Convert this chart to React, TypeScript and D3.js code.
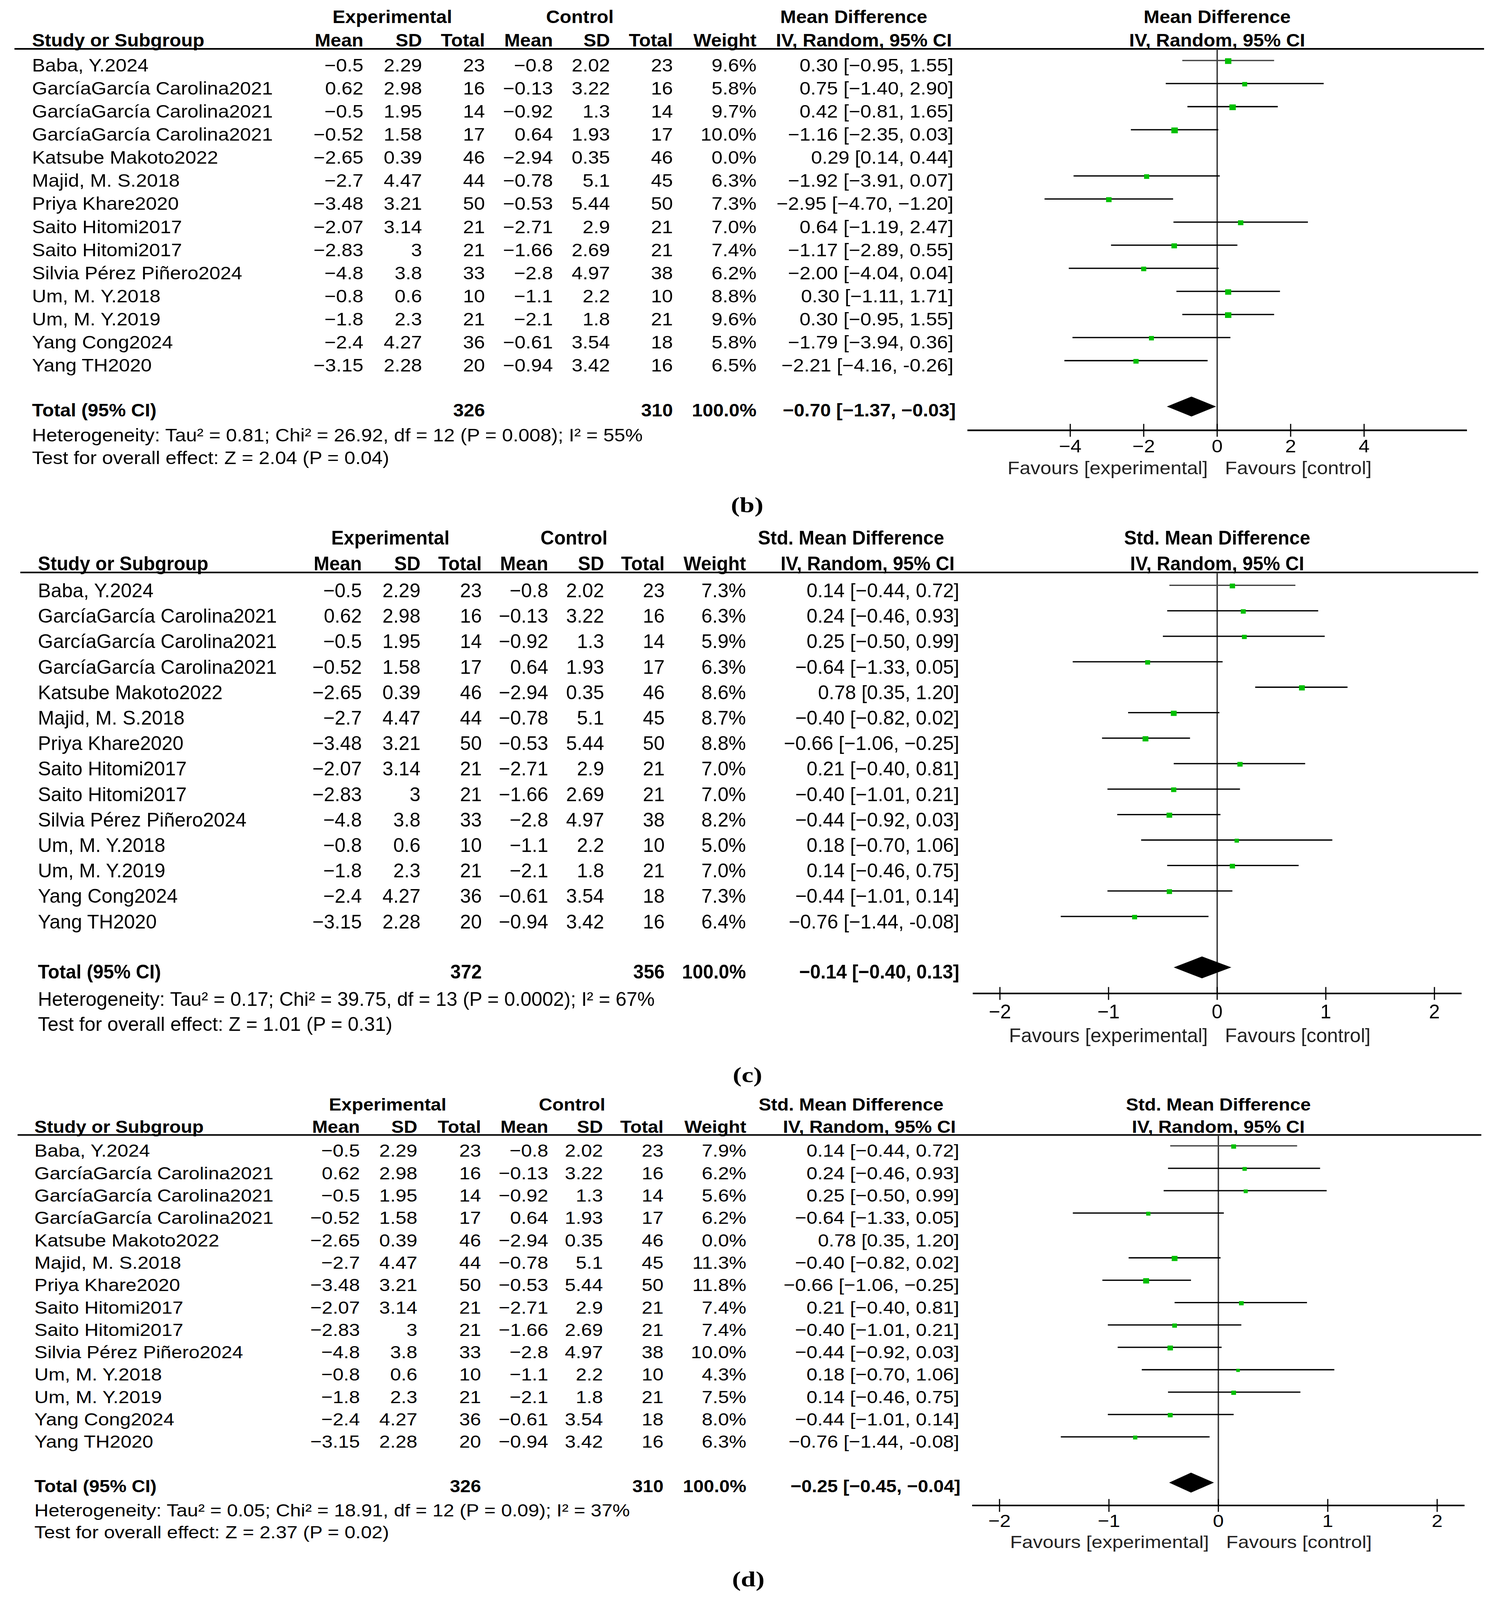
import React, { useEffect } from 'react';
import * as d3 from 'd3';

// ---------- shared study data ----------
const studies = [
  'Baba, Y.2024',
  'GarcíaGarcía Carolina2021',
  'GarcíaGarcía Carolina2021',
  'GarcíaGarcía Carolina2021',
  'Katsube Makoto2022',
  'Majid, M. S.2018',
  'Priya Khare2020',
  'Saito Hitomi2017',
  'Saito Hitomi2017',
  'Silvia Pérez Piñero2024',
  'Um, M. Y.2018',
  'Um, M. Y.2019',
  'Yang Cong2024',
  'Yang TH2020',
];
const expMean = [-0.5, 0.62, -0.5, -0.52, -2.65, -2.7, -3.48, -2.07, -2.83, -4.8, -0.8, -1.8, -2.4, -3.15];
const expSD = [2.29, 2.98, 1.95, 1.58, 0.39, 4.47, 3.21, 3.14, 3, 3.8, 0.6, 2.3, 4.27, 2.28];
const expN = [23, 16, 14, 17, 46, 44, 50, 21, 21, 33, 10, 21, 36, 20];
const ctlMean = [-0.8, -0.13, -0.92, 0.64, -2.94, -0.78, -0.53, -2.71, -1.66, -2.8, -1.1, -2.1, -0.61, -0.94];
const ctlSD = [2.02, 3.22, 1.3, 1.93, 0.35, 5.1, 5.44, 2.9, 2.69, 4.97, 2.2, 1.8, 3.54, 3.42];
const ctlN = [23, 16, 14, 17, 46, 45, 50, 21, 21, 38, 10, 21, 18, 16];

// ---------- panel (b): Mean Difference ----------
const weightB = [9.6, 5.8, 9.7, 10.0, 0.0, 6.3, 7.3, 7.0, 7.4, 6.2, 8.8, 9.6, 5.8, 6.5];
const estB = [0.3, 0.75, 0.42, -1.16, 0.29, -1.92, -2.95, 0.64, -1.17, -2.0, 0.3, 0.3, -1.79, -2.21];
const loB = [-0.95, -1.4, -0.81, -2.35, 0.14, -3.91, -4.7, -1.19, -2.89, -4.04, -1.11, -0.95, -3.94, -4.16];
const hiB = [1.55, 2.9, 1.65, 0.03, 0.44, 0.07, -1.2, 2.47, 0.55, 0.04, 1.71, 1.55, 0.36, -0.26];
const totalB = { expN: 326, ctlN: 310, est: -0.7, lo: -1.37, hi: -0.03 };
const hetB = 'Heterogeneity: Tau² = 0.81; Chi² = 26.92, df = 12 (P = 0.008); I² = 55%';
const testB = 'Test for overall effect: Z = 2.04 (P = 0.04)';
const ticksB = [-4, -2, 0, 2, 4];

// ---------- panel (c): Std. Mean Difference ----------
const weightC = [7.3, 6.3, 5.9, 6.3, 8.6, 8.7, 8.8, 7.0, 7.0, 8.2, 5.0, 7.0, 7.3, 6.4];
const estSMD = [0.14, 0.24, 0.25, -0.64, 0.78, -0.4, -0.66, 0.21, -0.4, -0.44, 0.18, 0.14, -0.44, -0.76];
const loSMD = [-0.44, -0.46, -0.5, -1.33, 0.35, -0.82, -1.06, -0.4, -1.01, -0.92, -0.7, -0.46, -1.01, -1.44];
const hiSMD = [0.72, 0.93, 0.99, 0.05, 1.2, 0.02, -0.25, 0.81, 0.21, 0.03, 1.06, 0.75, 0.14, -0.08];
const totalC = { expN: 372, ctlN: 356, est: -0.14, lo: -0.4, hi: 0.13 };
const hetC = 'Heterogeneity: Tau² = 0.17; Chi² = 39.75, df = 13 (P = 0.0002); I² = 67%';
const testC = 'Test for overall effect: Z = 1.01 (P = 0.31)';
const ticksSMD = [-2, -1, 0, 1, 2];

// ---------- panel (d): Std. Mean Difference ----------
const weightD = [7.9, 6.2, 5.6, 6.2, 0.0, 11.3, 11.8, 7.4, 7.4, 10.0, 4.3, 7.5, 8.0, 6.3];
const totalD = { expN: 326, ctlN: 310, est: -0.25, lo: -0.45, hi: -0.04 };
const hetD = 'Heterogeneity: Tau² = 0.05; Chi² = 18.91, df = 12 (P = 0.09); I² = 37%';
const testD = 'Test for overall effect: Z = 2.37 (P = 0.02)';

// row whose upper CI bound is printed with a plain hyphen in the source
const hyphenUpperRow = 13;

const W = 3826;
const H = 4975;
const FONT = '"Liberation Sans", Arial, Helvetica, sans-serif';
const GREEN = '#00bf00';

const m = (s: string) => s.replace('-', '−');
const fmtNum = (v: number) => m(String(v));
const fmt2 = (v: number) => m(v.toFixed(2));
const fmtCI = (e: number, l: number, h: number, hyph = false) =>
  `${fmt2(e)} [${fmt2(l)}, ${hyph ? h.toFixed(2) : fmt2(h)}]`;

function T(props: any) {
  const { x, y, s, sx, anchor = 'start', bold = false, fill = '#000', family = FONT, children } = props;
  return (
    <text
      transform={`translate(${x},${y}) scale(${sx},1)`}
      textAnchor={anchor}
      fontSize={s}
      fontWeight={bold ? 'bold' : 'normal'}
      fontFamily={family}
      fill={fill}
    >
      {children}
    </text>
  );
}

function Panel(props: any) {
  const { L, D } = props;
  const x = d3.scaleLinear().domain([-L.dom, L.dom]).range([L.zero - L.dom * L.unit, L.zero + L.dom * L.unit]);
  const rowY = d3.scaleLinear().domain([0, 1]).range([L.row0, L.row0 + L.step]);
  const fs = L.fs;
  const sx = L.sx;
  const sxb = L.sxb;
  const C = L.cols;
  const dTot = D.total;
  const diamond = [
    [x(dTot.lo), L.diamondY],
    [x(dTot.est), L.diamondY - L.diamondH],
    [x(dTot.hi), L.diamondY],
    [x(dTot.est), L.diamondY + L.diamondH],
  ];
  return (
    <g>
      <T x={L.expHdrX} y={L.h1Y} s={fs} sx={sxb} anchor="middle" bold>Experimental</T>
      <T x={L.ctlHdrX} y={L.h1Y} s={fs} sx={sxb} anchor="middle" bold>Control</T>
      <T x={L.effHdrX} y={L.h1Y} s={fs} sx={sxb} anchor="middle" bold>{D.measure}</T>
      <T x={L.zero} y={L.h1Y} s={fs} sx={sxb} anchor="middle" bold>{D.measure}</T>
      <T x={L.nameX} y={L.h2Y} s={fs} sx={sxb} bold>Study or Subgroup</T>
      <T x={C.expMean} y={L.h2Y} s={fs} sx={sxb} anchor="end" bold>Mean</T>
      <T x={C.expSD} y={L.h2Y} s={fs} sx={sxb} anchor="end" bold>SD</T>
      <T x={C.expN} y={L.h2Y} s={fs} sx={sxb} anchor="end" bold>Total</T>
      <T x={C.ctlMean} y={L.h2Y} s={fs} sx={sxb} anchor="end" bold>Mean</T>
      <T x={C.ctlSD} y={L.h2Y} s={fs} sx={sxb} anchor="end" bold>SD</T>
      <T x={C.ctlN} y={L.h2Y} s={fs} sx={sxb} anchor="end" bold>Total</T>
      <T x={C.weight} y={L.h2Y} s={fs} sx={sxb} anchor="end" bold>Weight</T>
      <T x={L.ivHdrRight} y={L.h2Y} s={fs} sx={sxb} anchor="end" bold>IV, Random, 95% CI</T>
      <T x={L.zero} y={L.h2Y} s={fs} sx={sxb} anchor="middle" bold>IV, Random, 95% CI</T>
      <line x1={L.ruleX0} x2={L.ruleX1} y1={L.ruleY} y2={L.ruleY} stroke="#000" strokeWidth={5} />
      <line x1={x(0)} x2={x(0)} y1={L.ruleY} y2={L.axisY} stroke="#333" strokeWidth={3.5} />
      {studies.map((name, i) => {
        const y = rowY(i);
        const wy = y - L.whiskerOff;
        const w = D.weight[i];
        const h = L.sqK * Math.sqrt(w);
        return (
          <g key={i}>
            <T x={L.nameX} y={y} s={fs} sx={sx}>{name}</T>
            <T x={C.expMean} y={y} s={fs} sx={sx} anchor="end">{fmtNum(expMean[i])}</T>
            <T x={C.expSD} y={y} s={fs} sx={sx} anchor="end">{fmtNum(expSD[i])}</T>
            <T x={C.expN} y={y} s={fs} sx={sx} anchor="end">{expN[i]}</T>
            <T x={C.ctlMean} y={y} s={fs} sx={sx} anchor="end">{fmtNum(ctlMean[i])}</T>
            <T x={C.ctlSD} y={y} s={fs} sx={sx} anchor="end">{fmtNum(ctlSD[i])}</T>
            <T x={C.ctlN} y={y} s={fs} sx={sx} anchor="end">{ctlN[i]}</T>
            <T x={C.weight} y={y} s={fs} sx={sx} anchor="end">{w.toFixed(1)}%</T>
            <T x={C.ci} y={y} s={fs} sx={sx} anchor="end">
              {fmtCI(D.est[i], D.lo[i], D.hi[i], i === hyphenUpperRow)}
            </T>
            {w > 0 && (
              <g>
                <line x1={x(D.lo[i])} x2={x(D.hi[i])} y1={wy} y2={wy} stroke={i === 0 ? '#404040' : '#000'} strokeWidth={4} />
                <rect x={x(D.est[i]) - (h * 0.92) / 2} y={wy + 2 - h / 2} width={h * 0.92} height={h} fill={GREEN} />
              </g>
            )}
          </g>
        );
      })}
      <T x={L.nameX} y={L.totalY} s={fs} sx={sxb} bold>Total (95% CI)</T>
      <T x={C.expN} y={L.totalY} s={fs} sx={sxb} anchor="end" bold>{dTot.expN}</T>
      <T x={C.ctlN} y={L.totalY} s={fs} sx={sxb} anchor="end" bold>{dTot.ctlN}</T>
      <T x={C.weight} y={L.totalY} s={fs} sx={sxb} anchor="end" bold>100.0%</T>
      <T x={L.totalCiRight} y={L.totalY} s={fs} sx={sxb} anchor="end" bold>{fmtCI(dTot.est, dTot.lo, dTot.hi)}</T>
      <path d={`M${diamond.map((p) => p.join(',')).join('L')}Z`} fill="#000" />
      <T x={L.nameX} y={L.hetY} s={fs} sx={sx}>{D.het}</T>
      <T x={L.nameX} y={L.testY} s={fs} sx={sx}>{D.test}</T>
      <line x1={x.range()[0]} x2={x.range()[1]} y1={L.axisY} y2={L.axisY} stroke="#000" strokeWidth={5} />
      {D.ticks.map((t: number) => (
        <g key={t}>
          <line x1={x(t)} x2={x(t)} y1={L.axisY - 20} y2={L.axisY + 20} stroke="#000" strokeWidth={3} />
          <T x={x(t)} y={L.tickLabY} s={fs} sx={sx} anchor="middle">{fmtNum(t)}</T>
        </g>
      ))}
      <T x={x(0) - 24} y={L.favY} s={fs} sx={sx} anchor="end" fill="#222">Favours [experimental]</T>
      <T x={x(0) + 20} y={L.favY} s={fs} sx={sx} fill="#222">Favours [control]</T>
      <text x={L.labelX} y={L.labelY} textAnchor="middle" fontSize={68} fontWeight="bold" fontFamily='"Liberation Serif", "Times New Roman", serif'>
        {L.label}
      </text>
    </g>
  );
}

const layoutB = {
  fs: 56, sx: 0.9, sxb: 0.87, nameX: 82, ruleX0: 37, ruleX1: 3798, ruleY: 152, h1Y: 72, h2Y: 145,
  cols: { expMean: 930, expSD: 1080, expN: 1241, ctlMean: 1415, ctlSD: 1561, ctlN: 1722, weight: 1936, ci: 2440 },
  expHdrX: 1004, ctlHdrX: 1484, effHdrX: 2185, ivHdrRight: 2436,
  row0: 222, step: 71.8, whiskerOff: 34,
  totalY: 1295, totalCiRight: 2446, diamondY: 1264, diamondH: 31, hetY: 1372, testY: 1443,
  axisY: 1338, tickLabY: 1407, favY: 1475, zero: 3115, unit: 94, dom: 6.8, sqK: 5.7,
  label: '(b)', labelX: 1912, labelY: 1592,
};
const layoutC = {
  fs: 61, sx: 0.82, sxb: 0.79, nameX: 97, ruleX0: 52, ruleX1: 3783, ruleY: 1780, h1Y: 1693, h2Y: 1773,
  cols: { expMean: 926, expSD: 1076, expN: 1233, ctlMean: 1403, ctlSD: 1546, ctlN: 1701, weight: 1909, ci: 2455 },
  expHdrX: 999, ctlHdrX: 1469, effHdrX: 2178, ivHdrRight: 2443,
  row0: 1857, step: 79.2, whiskerOff: 37,
  totalY: 3043, totalCiRight: 2455, diamondY: 3008, diamondH: 34, hetY: 3127, testY: 3205,
  axisY: 3089, tickLabY: 3167, favY: 3240, zero: 3115, unit: 278, dom: 2.25, sqK: 5.5,
  label: '(c)', labelX: 1913, labelY: 3365,
};
const layoutD = {
  fs: 55, sx: 0.91, sxb: 0.87, nameX: 88, ruleX0: 45, ruleX1: 3791, ruleY: 3529, h1Y: 3453, h2Y: 3522,
  cols: { expMean: 921, expSD: 1068, expN: 1231, ctlMean: 1403, ctlSD: 1543, ctlN: 1698, weight: 1910, ci: 2455 },
  expHdrX: 992, ctlHdrX: 1464, effHdrX: 2178, ivHdrRight: 2446,
  row0: 3597, step: 69.6, whiskerOff: 34,
  totalY: 4640, totalCiRight: 2458, diamondY: 4610, diamondH: 31, hetY: 4715, testY: 4783,
  axisY: 4681, tickLabY: 4748, favY: 4814, zero: 3118, unit: 280, dom: 2.25, sqK: 4.8,
  label: '(d)', labelX: 1915, labelY: 4932,
};

const dataB = { measure: 'Mean Difference', weight: weightB, est: estB, lo: loB, hi: hiB, total: totalB, het: hetB, test: testB, ticks: ticksB };
const dataC = { measure: 'Std. Mean Difference', weight: weightC, est: estSMD, lo: loSMD, hi: hiSMD, total: totalC, het: hetC, test: testC, ticks: ticksSMD };
const dataD = { measure: 'Std. Mean Difference', weight: weightD, est: estSMD, lo: loSMD, hi: hiSMD, total: totalD, het: hetD, test: testD, ticks: ticksSMD };

export default function App() {
  // The visible page may be shorter than the chart; fit the full drawing into it.
  const viewH = typeof window !== 'undefined' && window.innerHeight > 0 ? Math.min(H, window.innerHeight) : H;
  useEffect(() => {
    document.body.style.margin = '0';
    document.body.style.background = '#fff';
    document.body.style.overflow = 'hidden';
  }, []);
  return (
    <svg
      width={W}
      height={viewH}
      viewBox={`0 0 ${W} ${H}`}
      preserveAspectRatio="none"
      style={{ display: 'block', background: '#fff' }}
    >
      <rect width={W} height={H} fill="#fff" />
      <Panel L={layoutB} D={dataB} />
      <Panel L={layoutC} D={dataC} />
      <Panel L={layoutD} D={dataD} />
    </svg>
  );
}
